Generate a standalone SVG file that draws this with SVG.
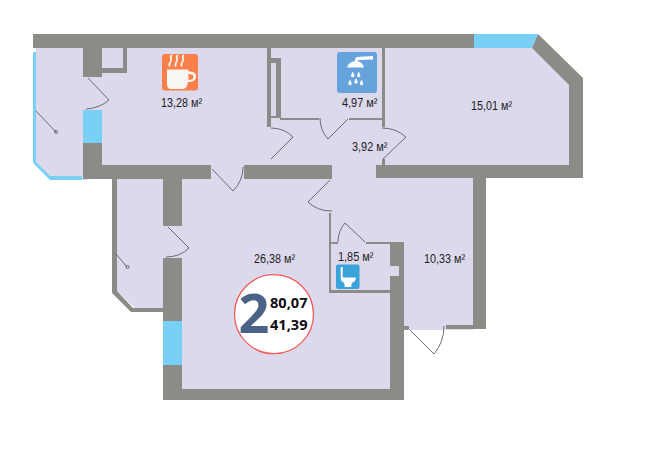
<svg xmlns="http://www.w3.org/2000/svg" width="650" height="456" viewBox="0 0 650 456">
<style>
.wall{fill:#8c8b87}
.win{fill:#78d0f5}
.door{fill:none;stroke:#5e5e66;stroke-width:.9}
.lbl{font-family:"Liberation Sans",Arial,sans-serif;font-size:12.500px;fill:#1c1c24}
.num{font-family:"Open Sans",sans-serif;font-weight:700;font-size:14.600px;fill:#0e0e14}
.ico{fill:#f8f6f2}
</style>
<rect width="650" height="456" fill="#fff"/>
<polygon id="floor" fill="#dcd9ec" points="36,48 532,48 569,85 569,170 473,170 473,330 404,330 404,392 170,392 170,308 135,308 117,291 117,175 90,175 88,180 50,180 36,162"/>
<g id="windows">
<polygon class="win" points="33,52 36,52 36,162 50,176 82,176 82,180 50,180 33,163"/>
<polygon class="win" points="474,34 538,34 532,48 474,48"/>
<rect class="win" x="83" y="110" width="19" height="33"/>
<rect class="win" x="163" y="321" width="19" height="44"/>
</g>
<g id="walls">
<rect class="wall" x="33" y="34" width="441" height="14"/>
<polygon class="wall" points="538,34 583,78 583,178 376,178 376,165 569,165 569,85 532,48"/>
<rect class="wall" x="83" y="48" width="19" height="29"/>
<path class="wall" d="M102 68h21V48h4v25h-25z"/>
<rect class="wall" x="83" y="143" width="19" height="36"/>
<rect class="wall" x="83" y="165" width="128" height="14"/>
<rect class="wall" x="244" y="165" width="88" height="14"/>
<rect class="wall" x="267" y="48" width="4" height="79"/>
<path class="wall" d="M271 58h10v60h-10v-2h5V63h-5z"/>
<rect class="wall" x="280" y="118" width="39" height="2"/>
<rect class="wall" x="349" y="118" width="34" height="2"/>
<rect class="wall" x="382" y="48" width="3" height="79"/>
<rect class="wall" x="382" y="159" width="3" height="6"/>
<rect class="wall" x="163" y="179" width="19" height="47"/>
<rect class="wall" x="163" y="258" width="19" height="63"/>
<rect class="wall" x="163" y="365" width="19" height="35"/>
<rect class="wall" x="163" y="389" width="241" height="11"/>
<polygon class="wall" points="112,179 117,179 117,291 133,308 163,308 163,312 131,312 112,293"/>
<path class="wall" d="M390 242h14v24h-14zM390 276h14v124h-14zM399 266h5v10h-5zM404 326h5v4h-5z"/>
<rect class="wall" x="473" y="178" width="13" height="151"/>
<rect class="wall" x="446" y="325" width="40" height="4"/>
<rect class="wall" x="329" y="213" width="2" height="80"/>
<rect class="wall" x="329" y="242" width="9" height="2"/>
<rect class="wall" x="366" y="242" width="24" height="2"/>
<rect class="wall" x="329" y="290" width="61" height="3"/>
</g>
<g id="connectors">
<path class="door" d="M88 78L109 100Q100 108 86 109"/>
<path class="door" d="M36 111L56 132"/>
<circle class="door" cx="56" cy="132" r="1.500"/>
<path class="door" d="M212 169L233 191Q243 181 243 167"/>
<path class="door" d="M168 227L189 248Q180 257 166 257"/>
<path class="door" d="M116 254L127 267"/>
<circle class="door" cx="127.500" cy="267" r="1.500"/>
<path class="door" d="M271 128Q284 128 293 137L271 159"/>
<path class="door" d="M320 118Q320 130 328 139L348 119"/>
<path class="door" d="M382 128Q396 128 406 137L383 159"/>
<path class="door" d="M330 180L308 202Q317 211 332 211"/>
<path class="door" d="M338 242Q338 231 345 223L365 242"/>
<path class="door" d="M410 330L434 354Q444 342 444 326"/>
</g>
<g id="room-kitchen">
<rect x="162" y="54" width="36" height="36.500" rx="3" fill="#f9804a"/>
<path class="ico" fill-rule="evenodd" d="M167 69.500h21.500v2q7.500-.5 7.500 5t-8 5.500q-1 7-5 7h-12q-4 0-4-5zM188.500 74v6q5 0 5-3t-5-3z"/>
<path d="M170 66.500c-3-3 3-5 1-8q-1-2 1-3.500M176 66.500c-3-3 3-5 1-8q-1-2 1-3.500M182 66.500c-3-3 3-5 1-8q-1-2 1-3.500" fill="none" stroke="#f8f6f2" stroke-width="1.700"/>
<text class="lbl" x="161" y="107" textLength="41" lengthAdjust="spacingAndGlyphs">13,28 м²</text>
</g>
<g id="room-bath">
<rect x="337" y="52" width="40" height="41" rx="3" fill="#66a3dc"/>
<path d="M355 62v-2.500q0-2 2-2.500l16-1v3.500l-14 .5q-1.500 0-1.500 2v.5z" fill="#fff"/>
<path d="M347 67.500q2-6.500 9-6.500 6 0 8 6.500z" fill="#fff"/>
<path fill="#fff" d="M352.700 71.500l-1.600 3.400a1.700 1.700 0 1 0 3.200 0zM358.700 71.500l-1.600 3.400a1.700 1.700 0 1 0 3.200 0zM350 79.500l-1.600 3.400a1.700 1.700 0 1 0 3.200 0zM356 78l-1.600 3.400a1.700 1.700 0 1 0 3.200 0zM361.500 79.500l-1.600 3.400a1.700 1.700 0 1 0 3.200 0z"/>
<text class="lbl" x="342" y="107" textLength="35.500" lengthAdjust="spacingAndGlyphs">4,97 м²</text>
</g>
<g id="room-hall"><text class="lbl" x="352" y="150.500" textLength="35.500" lengthAdjust="spacingAndGlyphs">3,92 м²</text></g>
<g id="room-bed1"><text class="lbl" x="471" y="110" textLength="41" lengthAdjust="spacingAndGlyphs">15,01 м²</text></g>
<g id="room-living"><text class="lbl" x="254" y="263" textLength="41" lengthAdjust="spacingAndGlyphs">26,38 м²</text></g>
<g id="room-entry"><text class="lbl" x="424" y="263" textLength="41" lengthAdjust="spacingAndGlyphs">10,33 м²</text></g>
<g id="room-wc">
<text class="lbl" x="338" y="261" textLength="35.500" lengthAdjust="spacingAndGlyphs">1,85 м²</text>
<rect x="336" y="264.500" width="23.500" height="24.500" rx="2" fill="#3aa3dc"/>
<path d="M340.700 267h2v10.500h13.300q0 4-4.300 5.500l-.5 4h-6.500l-.5-4q-3.500-1.500-3.500-5.500z" fill="#fff"/>
</g>
<g id="badge">
<circle cx="274" cy="314.200" r="39.500" fill="#fff" stroke="#f05a5a" stroke-width="1.300"/>
<text x="238.500" y="333" font-family="Open Sans,sans-serif" font-weight="700" font-size="54" fill="#4a6285">2</text>
<text class="num" x="270" y="308">80,07</text>
<text class="num" x="270" y="330">41,39</text>
</g>
</svg>
